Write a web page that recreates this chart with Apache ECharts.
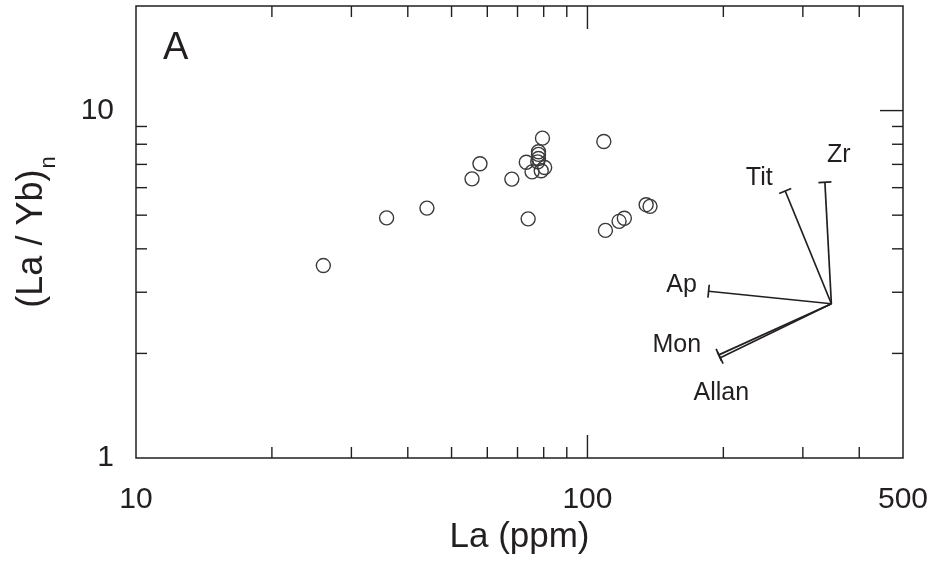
<!DOCTYPE html>
<html>
<head>
<meta charset="utf-8">
<script src="https://cdn.jsdelivr.net/npm/echarts@6/dist/echarts.min.js"></script>
<style>
html,body{margin:0;padding:0;background:#fff;}
#chart{width:933px;height:569px;}
</style>
</head>
<body>
<div id="chart"></div>
<script>
// ---- data ----
const laValues    = [26.0, 35.9, 44.1, 55.5, 57.8, 68.0, 73.9, 73.2, 79.5, 77.9, 77.9, 77.6, 75.4, 79.0, 80.4, 108.7, 109.6, 117.5, 120.7, 134.9, 137.6, 77.9];
const ratioValues = [3.58, 4.91, 5.24, 6.36, 7.03, 6.35, 4.88, 7.10, 8.33, 7.48, 7.28, 7.12, 6.66, 6.71, 6.86, 8.15, 4.52, 4.80, 4.90, 5.36, 5.30, 7.61];

const vectorNames    = ['Zr', 'Tit', 'Ap', 'Mon', 'Allan'];
const vectorStartLa  = [347, 347, 347, 347, 347];
const vectorStartRat = [2.78, 2.78, 2.78, 2.78, 2.78];
const vectorEndLa    = [335.7, 274.2, 185.5, 195.4, 196.9];
const vectorEndRat   = [6.22, 5.87, 3.02, 1.981, 1.942];

const xLabelValues = [10, 100, 500];
const yLabelValues = [1, 10];
const xMinorTicks = [20, 30, 40, 50, 60, 70, 80, 90, 200, 300, 400];
const xMajorTicks = [100];
const yMinorTicks = [2, 3, 4, 5, 6, 7, 8, 9];
const yMajorTicks = [10];
const panelLabel = 'A';

// ---- chart ----
const FONT = 'Liberation Sans, Arial, Helvetica, sans-serif';
const INK = '#231f20';
const X_MIN = 10, X_MAX = 500, Y_MIN = 1, Y_MAX = 20;

const points = laValues.map((v, i) => [v, ratioValues[i]]);
const vectors = vectorNames.map((n, i) => [vectorStartLa[i], vectorStartRat[i], vectorEndLa[i], vectorEndRat[i], n]);
const labelOffsets = [[14, -27], [-26, -13], [-27, -6], [-42, -10], [1, 35]];

function tickSeries(data, kind, len) {
  return {
    type: 'custom',
    silent: true,
    z: 5,
    data: data,
    renderItem: function (params, api) {
      const cs = params.coordSys;
      const c = api.coord([api.value(0), api.value(1)]);
      const st = { stroke: INK, lineWidth: 1.4 };
      const els = [];
      if (kind === 'x') {
        els.push({ type: 'line', shape: { x1: c[0], y1: cs.y + cs.height, x2: c[0], y2: cs.y + cs.height - len }, style: st });
        els.push({ type: 'line', shape: { x1: c[0], y1: cs.y, x2: c[0], y2: cs.y + len }, style: st });
      } else if (kind === 'y') {
        els.push({ type: 'line', shape: { x1: cs.x, y1: c[1], x2: cs.x + len, y2: c[1] }, style: st });
        els.push({ type: 'line', shape: { x1: cs.x + cs.width, y1: c[1], x2: cs.x + cs.width - len, y2: c[1] }, style: st });
      } else if (kind === 'yRight') {
        els.push({ type: 'line', shape: { x1: cs.x + cs.width, y1: c[1], x2: cs.x + cs.width - len, y2: c[1] }, style: st });
      }
      return { type: 'group', children: els };
    }
  };
}

const chart = echarts.init(document.getElementById('chart'), null, { renderer: 'canvas' });
chart.setOption({
  animation: false,
  backgroundColor: '#fff',
  textStyle: { fontFamily: FONT },
  grid: { left: 136, right: 30, top: 6, bottom: 111, show: true, borderColor: INK, borderWidth: 1.5, backgroundColor: 'transparent' },
  xAxis: {
    type: 'log', logBase: 10, min: X_MIN, max: X_MAX,
    axisLine: { show: false }, axisTick: { show: false }, splitLine: { show: false },
    axisLabel: { customValues: xLabelValues, fontSize: 30, color: INK, margin: 27, fontFamily: FONT, showMaxLabel: true, showMinLabel: true },
    name: 'La (ppm)', nameLocation: 'middle', nameGap: 60,
    nameTextStyle: { fontSize: 35, color: INK, fontFamily: FONT }
  },
  yAxis: {
    type: 'log', logBase: 10, min: Y_MIN, max: Y_MAX,
    axisLine: { show: false }, axisTick: { show: false }, splitLine: { show: false },
    axisLabel: { customValues: yLabelValues, fontSize: 30, color: INK, margin: 22, fontFamily: FONT },
    name: '{a|(La / Yb)}{b|n}', nameLocation: 'middle', nameGap: 86, nameRotate: 90,
    nameTextStyle: {
      color: INK, fontFamily: FONT,
      rich: {
        a: { fontSize: 36, color: INK, fontFamily: FONT, lineHeight: 40, verticalAlign: 'bottom' },
        b: { fontSize: 22, color: INK, fontFamily: FONT, lineHeight: 40, verticalAlign: 'bottom', padding: [0, 0, -10, 1] }
      }
    }
  },
  graphic: [
    { type: 'text', left: 163, top: 30, style: { text: panelLabel, fontSize: 38, fill: INK, fontFamily: FONT } }
  ],
  series: [
    tickSeries(xMinorTicks.map(v => [v, Y_MIN]), 'x', 11),
    tickSeries(xMajorTicks.map(v => [v, Y_MIN]), 'x', 23),
    tickSeries(yMinorTicks.map(v => [X_MIN, v]), 'y', 11),
    tickSeries(yMajorTicks.map(v => [X_MIN, v]), 'yRight', 23),
    {
      type: 'scatter',
      data: points,
      symbol: 'circle',
      symbolSize: 14,
      itemStyle: { color: 'rgba(0,0,0,0)', borderColor: '#3a3a3a', borderWidth: 1.4, opacity: 1 },
      z: 3
    },
    {
      type: 'custom',
      data: vectors,
      encode: { x: [0, 2], y: [1, 3] },
      z: 4,
      renderItem: function (params, api) {
        const p0 = api.coord([api.value(0), api.value(1)]);
        const p1 = api.coord([api.value(2), api.value(3)]);
        const dx = p1[0] - p0[0], dy = p1[1] - p0[1];
        const L = Math.sqrt(dx * dx + dy * dy) || 1;
        const px = -dy / L, py = dx / L;
        const h = 6.5;
        const off = labelOffsets[params.dataIndex];
        const st = { stroke: INK, lineWidth: 1.7 };
        return {
          type: 'group',
          children: [
            { type: 'line', shape: { x1: p0[0], y1: p0[1], x2: p1[0], y2: p1[1] }, style: st },
            { type: 'line', shape: { x1: p1[0] - px * h, y1: p1[1] - py * h, x2: p1[0] + px * h, y2: p1[1] + py * h }, style: st },
            { type: 'text', x: p1[0] + off[0], y: p1[1] + off[1],
              style: { text: api.value(4), fontSize: 25, fill: INK, fontFamily: FONT, align: 'center', verticalAlign: 'middle' } }
          ]
        };
      }
    }
  ]
});
</script>
</body>
</html>
